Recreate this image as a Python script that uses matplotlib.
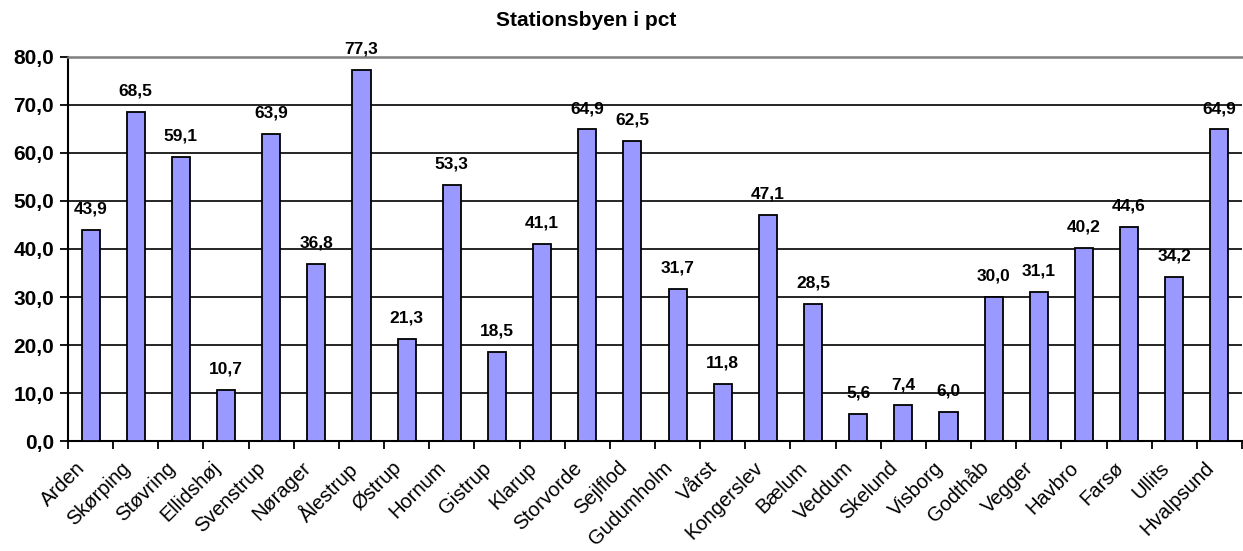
import matplotlib.pyplot as plt
import matplotlib.transforms as mtransforms
import numpy as np

plt.rcParams['font.family'] = ['Liberation Sans', 'DejaVu Sans']

byer = ['Arden', 'Skørping', 'Støvring', 'Ellidshøj', 'Svenstrup', 'Nørager',
        'Ålestrup', 'Østrup', 'Hornum', 'Gistrup', 'Klarup', 'Storvorde',
        'Sejlflod', 'Gudumholm', 'Vårst', 'Kongerslev', 'Bælum', 'Veddum',
        'Skelund', 'Visborg', 'Godthåb', 'Vegger', 'Havbro', 'Farsø',
        'Ullits', 'Hvalpsund']
pct = [43.9, 68.5, 59.1, 10.7, 63.9, 36.8, 77.3, 21.3, 53.3, 18.5, 41.1, 64.9,
       62.5, 31.7, 11.8, 47.1, 28.5, 5.6, 7.4, 6.0, 30.0, 31.1, 40.2, 44.6,
       34.2, 64.9]

fig = plt.figure(figsize=(12.43, 5.51), dpi=100)
ax = fig.add_axes([0.0547, 0.1996, 0.9445, 0.697])

x = np.arange(len(byer))
ax.bar(x, pct, width=0.4, color='#9999FF', edgecolor='black', linewidth=1.3, zorder=3)

for xi, v in zip(x, pct):
    ax.text(xi, v + 2.8, f'{v:.1f}'.replace('.', ','), ha='center', va='bottom',
            fontsize=12.5, fontweight='bold')

ax.set_xlim(-0.5, len(byer) - 0.5)
ax.set_ylim(0, 80)
ax.set_yticks(np.arange(0, 81, 10))
ax.set_yticklabels([f'{v:.1f}'.replace('.', ',') for v in np.arange(0, 81, 10)],
                   fontsize=15, fontweight='bold')
ax.yaxis.grid(True, color='black', linewidth=1.2, zorder=0)

ax.set_xticks(x)
ax.set_xticklabels(byer, rotation=45, ha='right', rotation_mode='anchor', fontsize=14.5)
ax.set_xticks(np.arange(-0.5, len(byer), 1), minor=True)
ax.tick_params(axis='x', which='major', length=0, pad=8)
ax.tick_params(axis='x', which='minor', length=6, width=1.3, direction='out')
ax.tick_params(axis='y', length=6, width=1.3, direction='out', pad=4)

# flyt bynavnene lidt til venstre og ned, som i originalen
skift = mtransforms.ScaledTranslation(-15 / 100, -6 / 100, fig.dpi_scale_trans)
for lbl in ax.get_xticklabels():
    lbl.set_transform(lbl.get_transform() + skift)

ax.spines['right'].set_visible(False)
ax.spines['top'].set_color('#808080')
ax.spines['top'].set_linewidth(1.8)
ax.spines['left'].set_linewidth(1.5)
ax.spines['bottom'].set_linewidth(1.5)

fig.text(586 / 1243, 1 - 20 / 551, 'Stationsbyen i pct', ha='center', va='center',
         fontsize=15, fontweight='bold')

fig.savefig('out.png', dpi=100)
